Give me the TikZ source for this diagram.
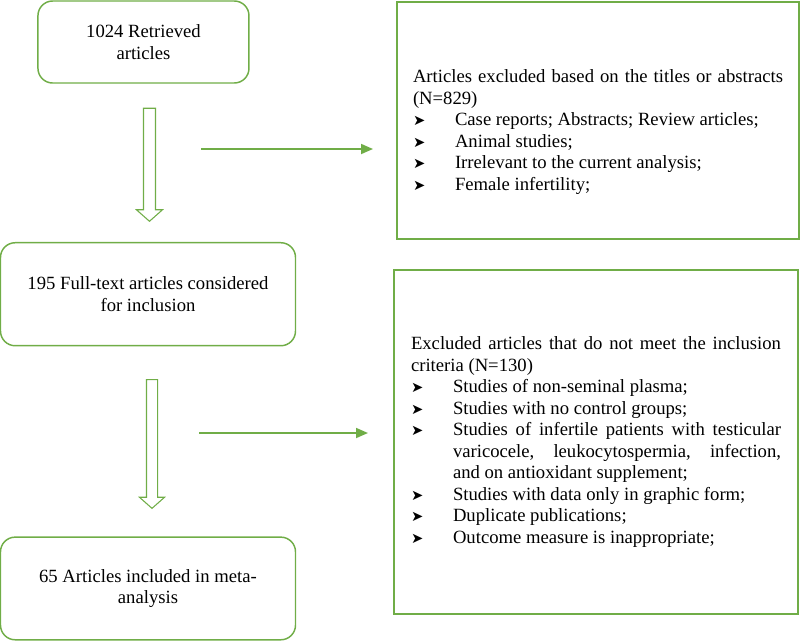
\documentclass[tikz,border=0pt]{standalone}
\usepackage{fontspec}
\setmainfont{Liberation Serif}
\newfontfamily\dingfont{DejaVu Sans}
\usetikzlibrary{positioning}
\usetikzlibrary{shapes.arrows}
\usetikzlibrary{arrows.meta}
\definecolor{flowgreen}{RGB}{112,173,71}
\newcommand{\excitem}[1]{\par\noindent\hangindent=31.5pt\hangafter=1%
  \makebox[31.5pt][l]{\dingfont\fontsize{11pt}{11pt}\selectfont ➤}#1}

\begin{document}
\begin{tikzpicture}
  [
    font=\fontsize{14pt}{16.1pt}\selectfont,
    stage/.style={
      rectangle,
      rounded corners=11pt,
      draw=flowgreen,
      line width=1.1pt,
      align=center
    },
    excl/.style={
      rectangle,
      draw=flowgreen,
      line width=1.5pt,
      text width=277.5pt,
      align=justify,
      execute at begin node={\tolerance=10000\hbadness=10000}
    },
    hollow/.style={
      single arrow,
      draw=flowgreen,
      line width=0.8pt,
      inner xsep=0pt,
      minimum width=18.75pt,
      single arrow head extend=5.25pt,
      single arrow tip angle=97
    },
    flow/.style={draw=flowgreen,line width=1.3pt,-{Triangle[length=9pt,width=7.5pt]}},
  ]
  \useasboundingbox (0,0) rectangle (600pt,-482.25pt);

  \node[stage,minimum width=158.25pt,minimum height=61.5pt] (retr) at (107.6pt,-31.5pt)
      {1024 Retrieved\\articles};
  \node[hollow,inner ysep=4.1pt,minimum height=84.75pt,
        below=18pt of retr,xshift=4.5pt,rotate=-90,anchor=west] (arr1) {};
  \node[stage,minimum width=221.25pt,minimum height=77.25pt,
        below=15pt of arr1.east,anchor=north,xshift=-1.1pt] (full)
      {195 Full-text articles considered\\for inclusion};
  \node[hollow,inner ysep=3.75pt,minimum height=96.5pt,
        below=24.5pt of full,xshift=3pt,rotate=-90,anchor=west] (arr2) {};
  \node[stage,minimum width=221.25pt,minimum height=77pt,
        below=20.5pt of arr2.east,anchor=north,xshift=-3pt] (incl)
      {65 Articles included in meta-\\analysis};

  \node[excl,minimum width=301.5pt,minimum height=177.75pt,anchor=north west] (excl1) at (297pt,-0.75pt)
      {\rule{0pt}{27pt}Articles excluded based on the titles or abstracts\linebreak (N=829)
       \excitem{Case reports; Abstracts; Review articles;}
       \excitem{Animal studies;}
       \excitem{Irrelevant to the current analysis;}
       \excitem{Female infertility;}};
  \node[excl,minimum width=303pt,minimum height=258pt,
        below=21.75pt of excl1.south west,anchor=north west,xshift=-2.25pt] (excl2)
      {Excluded articles that do not meet the inclusion\linebreak criteria (N=130)
       \excitem{Studies of non-seminal plasma;}
       \excitem{Studies with no control groups;}
       \excitem{Studies of infertile patients with testicular\linebreak
                varicocele, leukocytospermia, infection,\linebreak
                and on antioxidant supplement;}
       \excitem{Studies with data only in graphic form;}
       \excitem{Duplicate publications;}
       \excitem{Outcome measure is inappropriate;}};

  \coordinate (out1) at (150.75pt,-111.75pt);
  \coordinate (out2) at (149.25pt,-324.75pt);
  \draw[flow,shorten >=17.25pt] (out1) -- (out1 -| excl1.west);
  \draw[flow,shorten >=18.75pt] (out2) -- (out2 -| excl2.west);
\end{tikzpicture}
\end{document}
